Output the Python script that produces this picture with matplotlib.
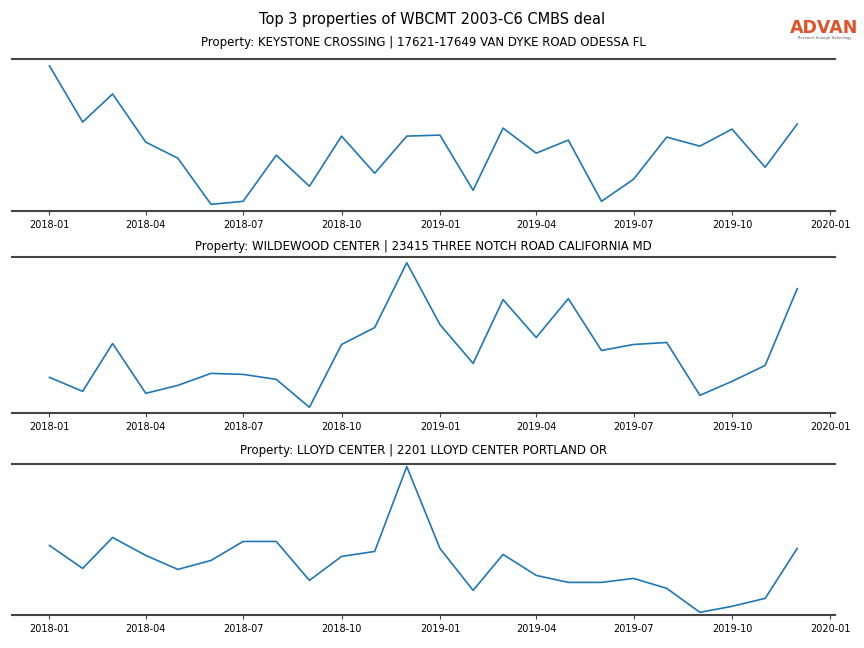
import pandas as pd
import matplotlib.pyplot as plt
import matplotlib.dates as mdates

# monthly values (relative scale)
months = pd.date_range("2018-01-01", "2019-12-01", freq="MS")

titles = [
    "Property: KEYSTONE CROSSING | 17621-17649 VAN DYKE ROAD ODESSA FL",
    "Property: WILDEWOOD CENTER | 23415 THREE NOTCH ROAD CALIFORNIA MD",
    "Property: LLOYD CENTER | 2201 LLOYD CENTER PORTLAND OR",
]

keystone = [145, 89, 117, 69, 53, 7, 10, 56, 25, 75, 38, 75,
            76, 21, 83, 58, 71, 10, 32, 74, 65, 82, 44, 87]
wildewood = [35, 21, 69, 19, 27, 39, 38, 33, 5, 68, 85, 150,
             88, 49, 113, 75, 114, 62, 68, 70, 17, 31, 47, 124]
lloyd = [69, 46, 77, 59, 45, 54, 73, 73, 34, 58, 63, 148,
         66, 24, 60, 39, 32, 32, 36, 26, 2, 8, 16, 66]

series = [keystone, wildewood, lloyd]

fig = plt.figure(figsize=(8.64, 6.48), dpi=100)
fig.suptitle("Top 3 properties of WBCMT 2003-C6 CMBS deal", fontsize=10.5, y=0.982)

boxes = [(0.014, 0.674, 0.952, 0.235),
         (0.014, 0.363, 0.952, 0.240),
         (0.014, 0.051, 0.952, 0.233)]
pads = [9.5, 5, 7]
ymargins = [0.05, 0.038, 0.018]

for box, title, vals, pad, ym in zip(boxes, titles, series, pads, ymargins):
    ax = fig.add_axes(box)
    ax.plot(months, vals, color="#1f77b4", linewidth=1.2)
    ax.margins(y=ym)
    ax.set_title(title, fontsize=8.5, pad=pad)
    ax.xaxis.set_major_locator(mdates.MonthLocator(bymonth=[1, 4, 7, 10]))
    ax.xaxis.set_major_formatter(mdates.DateFormatter("%Y-%m"))
    ax.tick_params(axis="x", labelsize=7, length=3, color="#444444")
    ax.set_yticks([])
    for side in ["left", "right"]:
        ax.spines[side].set_visible(False)
    for side in ["top", "bottom"]:
        ax.spines[side].set_color("#444444")
        ax.spines[side].set_linewidth(1.5)

# logo
fig.text(0.954, 0.957, "ADVAN", color="#E0522A", fontsize=12.5, fontweight="bold",
         ha="center", va="center")
fig.text(0.954, 0.941, "Research through Technology", color="#555555", fontsize=2.6,
         ha="center", va="center")

plt.savefig("out.png", dpi=100)
